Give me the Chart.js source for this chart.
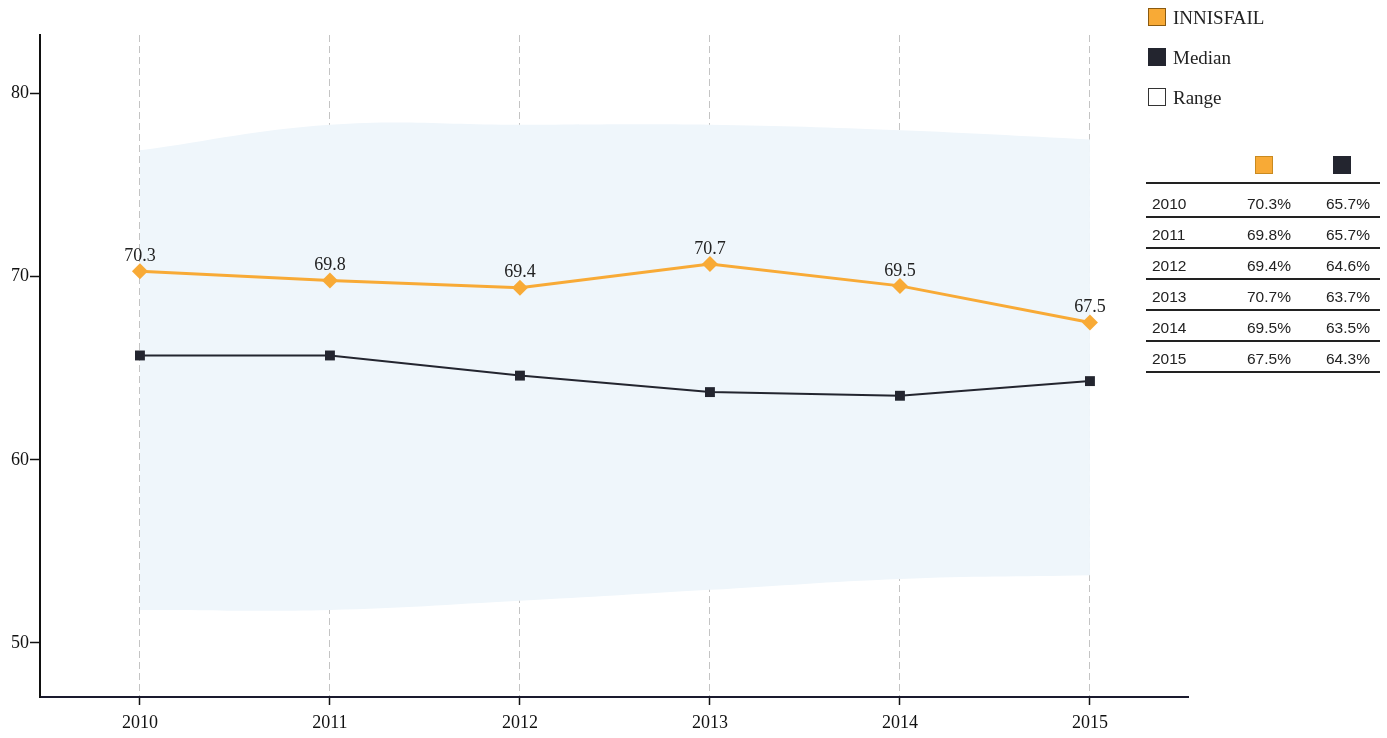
<!DOCTYPE html>
<html>
<head>
<meta charset="utf-8">
<script src="https://cdn.jsdelivr.net/npm/chart.js@4.4.0/dist/chart.umd.min.js"></script>
<style>
  body { margin: 0; background: #fff; }
  #wrap { position: relative; width: 1387px; height: 738px; }
  #legend { position: absolute; left: 1148px; top: 8px; font-family: "Liberation Serif", serif; font-size: 19px; color: #222; }
  #legend div { height: 40px; display: flex; align-items: flex-start; line-height: 20px; }
  #legend span.box { width: 18px; height: 18px; margin-right: 7px; box-sizing: border-box; border: 1.5px solid #333; }
  #tbl { position: absolute; left: 1146px; top: 150px; width: 234px; table-layout: fixed; font-family: "Liberation Sans", Arial, sans-serif; font-size: 15.5px; color: #222; border-collapse: collapse; }
  #tbl td { box-sizing: border-box; height: 31px; border-bottom: 2px solid #222; padding: 0 0 4px 0; vertical-align: bottom; line-height: 16px; }
  #tbl tr.head td { height: 33px; padding-bottom: 8px; }
  #tbl tr.first td { height: 34px; }
  #tbl td.c1 { padding-left: 6px; }
  .sq { display: inline-block; width: 18px; height: 18px; box-sizing: border-box; vertical-align: bottom; }
</style>
</head>
<body>
<div id="wrap">
  <canvas id="chart"></canvas>
  <div id="legend"></div>
  <table id="tbl"><colgroup><col style="width:101px"><col style="width:79px"><col style="width:54px"></colgroup><tbody id="tb"></tbody></table>
</div>
<script>
const years = [2010, 2011, 2012, 2013, 2014, 2015];
const innisfail = [70.3, 69.8, 69.4, 70.7, 69.5, 67.5];
const median = [65.7, 65.7, 64.6, 63.7, 63.5, 64.3];
const rangeHigh = [76.9, 78.3, 78.3, 78.3, 78.0, 77.5];
const rangeLow = [51.8, 51.8, 52.3, 52.9, 53.5, 53.7];
const yTicks = [50, 60, 70, 80];

const orange = "#f8aa36";
const dark = "#23252f";
const serif = "'Liberation Serif', 'Times New Roman', serif";

const pts = vals => years.map((yr, i) => ({ x: yr, y: vals[i] }));

// legend
const legendItems = [
  { label: "INNISFAIL", fill: orange, border: "#8a5a10" },
  { label: "Median", fill: dark, border: dark },
  { label: "Range", fill: "#fff", border: "#333" }
];
document.getElementById("legend").innerHTML = legendItems.map(it =>
  `<div><span class="box" style="background:${it.fill};border-color:${it.border}"></span>${it.label}</div>`
).join("");

// table
let rows = `<tr class="head"><td class="c1"></td><td><span class="sq" style="background:${orange};border:1px solid #c98a20;margin-left:8px"></span></td><td><span class="sq" style="background:${dark};margin-left:7px"></span></td></tr>`;
years.forEach((yr, i) => {
  rows += `<tr${i === 0 ? ' class="first"' : ""}><td class="c1">${yr}</td><td>${innisfail[i].toFixed(1)}%</td><td>${median[i].toFixed(1)}%</td></tr>`;
});
document.getElementById("tb").innerHTML = rows;

const valueLabels = {
  id: "valueLabels",
  afterDatasetsDraw(chart) {
    const ctx = chart.ctx;
    const meta = chart.getDatasetMeta(0);
    ctx.save();
    ctx.font = "18px " + serif;
    ctx.fillStyle = "#222";
    ctx.textAlign = "center";
    ctx.textBaseline = "bottom";
    meta.data.forEach((pt, i) => {
      ctx.fillText(innisfail[i].toFixed(1), pt.x, pt.y - 6);
    });
    ctx.restore();
  }
};

new Chart(document.getElementById("chart"), {
  type: "line",
  data: {
    datasets: [
      {
        label: "INNISFAIL",
        data: pts(innisfail),
        borderColor: orange,
        backgroundColor: orange,
        borderWidth: 3,
        pointStyle: "rectRot",
        pointRadius: 8,
        pointBorderWidth: 0,
        order: 1
      },
      {
        label: "Median",
        data: pts(median),
        borderColor: dark,
        backgroundColor: dark,
        borderWidth: 2,
        pointStyle: "rect",
        pointRadius: 7,
        pointBorderWidth: 0,
        order: 2
      },
      {
        label: "RangeHigh",
        data: pts(rangeHigh),
        borderWidth: 0,
        borderColor: "rgba(0,0,0,0)",
        backgroundColor: "#eff6fb",
        pointRadius: 0,
        tension: 0.4,
        fill: "+1",
        order: 5
      },
      {
        label: "RangeLow",
        data: pts(rangeLow),
        borderWidth: 0,
        borderColor: "rgba(0,0,0,0)",
        pointRadius: 0,
        tension: 0.4,
        fill: false,
        order: 6
      }
    ]
  },
  options: {
    responsive: true,
    maintainAspectRatio: false,
    animation: false,
    layout: { padding: { left: 0, right: 199, top: 35, bottom: 0 } },
    plugins: { legend: { display: false }, tooltip: { enabled: false } },
    scales: {
      x: {
        type: "linear",
        min: 2009.474,
        max: 2015.516,
        afterFit: s => { s.height = 41; },
        border: { display: true, color: "#1a1a2e", width: 2, dash: [7, 4] },
        grid: {
          color: "#c4c4c4",
          lineWidth: 1,
          tickColor: "#111",
          tickBorderDash: [],
          tickWidth: 1.5,
          tickLength: 8
        },
        ticks: {
          stepSize: 1,
          includeBounds: false,
          color: "#111",
          padding: 7,
          font: { family: serif, size: 18 },
          callback: v => Number.isInteger(v) ? String(v) : ""
        }
      },
      y: {
        min: 47.05,
        max: 83.2,
        afterFit: s => { s.width = 40; },
        afterBuildTicks: s => { s.ticks = yTicks.map(v => ({ value: v })); },
        border: { display: true, color: "#111", width: 2 },
        grid: {
          drawOnChartArea: false,
          color: "#111",
          tickLength: 10,
          tickWidth: 1.5
        },
        ticks: {
          color: "#111",
          padding: 1,
          font: { family: serif, size: 18 }
        }
      }
    }
  },
  plugins: [valueLabels]
});
</script>
</body>
</html>
